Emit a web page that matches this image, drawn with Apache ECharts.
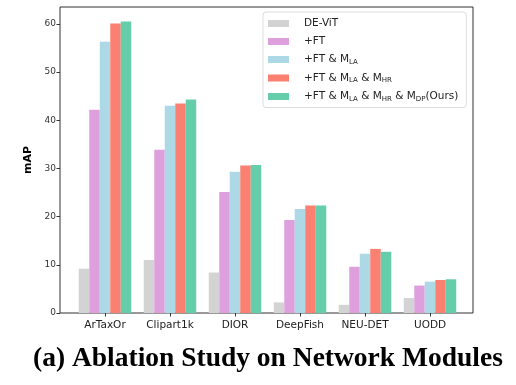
<!DOCTYPE html>
<html><head><meta charset="utf-8">
<script src="https://cdn.jsdelivr.net/npm/echarts@6/dist/echarts.min.js"></script>
<style>html,body{margin:0;padding:0;background:#fff}#c{width:516px;height:385px}</style>
</head><body><div id="c"></div>
<script>
const categories = ['ArTaxOr','Clipart1k','DIOR','DeepFish','NEU-DET','UODD'];
const seriesNames = ['DE-ViT','+FT','+FT & M_LA','+FT & M_LA & M_HR','+FT & M_LA & M_HR & M_DP(Ours)'];
const deVit   = [9.2, 11.0, 8.4, 2.2, 1.7, 3.1];
const ft      = [42.2, 33.9, 25.1, 19.3, 9.6, 5.7];
const ftLA    = [56.3, 43.0, 29.3, 21.6, 12.3, 6.5];
const ftLAHR  = [60.1, 43.5, 30.6, 22.3, 13.3, 6.85];
const ours    = [60.5, 44.3, 30.7, 22.3, 12.7, 7.0];
const yTicks  = [0,10,20,30,40,50,60];
const colors  = ['#d3d3d3','#dda0dd','#add8e6','#fa8072','#66cdaa'];
const legendRich = {
  'DE-ViT':'DE-ViT',
  '+FT':'+FT',
  '+FT & M_LA':'+FT & M{s|LA}',
  '+FT & M_LA & M_HR':'+FT & M{s|LA} & M{s|HR}',
  '+FT & M_LA & M_HR & M_DP(Ours)':'+FT & M{s|LA} & M{s|HR} & M{s|DP}(Ours)'
};
const values = [deVit, ft, ftLA, ftLAHR, ours];
const chart = echarts.init(document.getElementById('c'), null, {renderer:'canvas'});
const FONT = 'DejaVu Sans';
chart.setOption({
  animation:false,
  title:{text:'(a) Ablation Study on Network Modules', left:28, top:340,
    textStyle:{fontFamily:'Liberation Serif', fontWeight:'bold', fontSize:27.5, color:'#000'}},
  grid:[
    {left:72.5, right:53.5, top:7, bottom:72},
    {left:60, right:43, top:7, bottom:72, show:true, borderColor:'#333', borderWidth:1, backgroundColor:'transparent'}
  ],
  legend:{
    orient:'vertical', left:263, top:12, data:seriesNames,
    itemWidth:21, itemHeight:7, itemGap:7,
    padding:[6,8,5,5], borderColor:'#ddd', borderWidth:1, borderRadius:3, backgroundColor:'#fff',
    icon:'rect',
    formatter:n=>legendRich[n],
    textStyle:{fontFamily:FONT, fontSize:10.5, color:'#222', padding:[0,0,0,10],
      rich:{s:{fontFamily:FONT, fontSize:7, verticalAlign:'bottom', padding:[5,0,0,0], color:'#222'}}}
  },
  xAxis:[
    {type:'category', gridIndex:0, data:categories, boundaryGap:true,
     axisLine:{show:false}, axisTick:{show:true, alignWithLabel:true, length:3.5, lineStyle:{color:'#333'}},
     axisLabel:{fontFamily:FONT, fontSize:10.5, color:'#222', margin:7}},
    {type:'value', gridIndex:1, show:false, min:0, max:1}
  ],
  yAxis:[
    {type:'value', gridIndex:0, min:0, max:63.5, interval:10, offset:12.5,
     name:'mAP', nameLocation:'middle', nameGap:22, nameRotate:90,
     nameTextStyle:{fontFamily:FONT, fontWeight:'bold', fontSize:11, color:'#000'},
     axisLine:{show:false}, splitLine:{show:false},
     axisTick:{show:true, length:3.5, customValues:yTicks, lineStyle:{color:'#333'}},
     axisLabel:{fontFamily:FONT, fontSize:9, color:'#333', margin:4, customValues:yTicks}},
    {type:'value', gridIndex:1, show:false, min:0, max:1}
  ],
  series: seriesNames.map((n,i)=>({
    name:n, type:'bar', xAxisIndex:0, yAxisIndex:0, data:values[i],
    barWidth:10.5, barGap:'0%', itemStyle:{color:colors[i]}
  }))
});
</script></body></html>
